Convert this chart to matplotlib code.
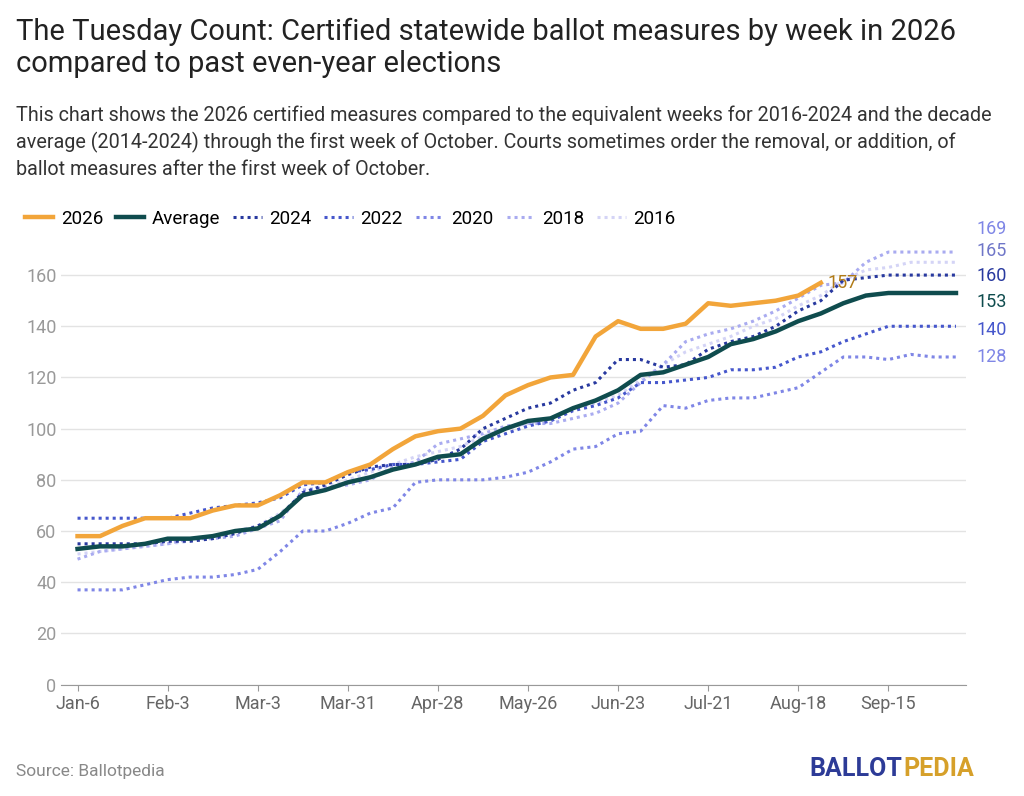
import matplotlib.pyplot as plt
import datetime as dt

weeks = [dt.date(2026, 1, 6) + dt.timedelta(weeks=i) for i in range(40)]
tick_labels = ["Jan-6", "Feb-3", "Mar-3", "Mar-31", "Apr-28", "May-26", "Jun-23", "Jul-21", "Aug-18", "Sep-15"]

y2026 = [58,58,62,65,65,65,68,70,70,74,79,79,83,86,92,97,99,100,105,113,117,120,121,136,142,139,139,141,149,148,149,150,152,157]
avg = [53,54,54,55,57,57,58,60,61,66,74,76,79,81,84,86,89,90,96,100,103,104,108,111,115,121,122,125,128,133,135,138,142,145,149,152,153,153,153,153]
y2024 = [55,55,55,55,56,56,57,59,62,66,75,78,82,85,86,86,88,92,100,104,108,110,115,118,127,127,124,125,131,134,136,140,146,150,158,159,160,160,160,160]
y2022 = [65,65,65,65,65,67,69,70,71,73,78,79,83,84,86,86,87,88,95,98,101,103,107,109,112,118,118,119,120,123,123,124,128,130,134,137,140,140,140,140]
y2020 = [37,37,37,39,41,42,42,43,45,52,60,60,63,67,69,79,80,80,80,81,83,87,92,93,98,99,109,108,111,112,112,114,116,122,128,128,127,129,128,128]
y2018 = [49,52,53,54,55,57,57,58,61,64,76,77,78,80,85,87,94,96,98,101,102,102,104,106,110,118,125,134,137,139,142,146,151,156,157,165,169,169,169,169]
y2016 = [51,52,53,54,55,56,58,60,62,67,74,77,80,83,86,89,91,93,97,100,102,104,108,110,113,119,125,130,133,136,140,143,148,152,158,162,163,165,165,165]

plt.rcParams['font.family'] = ['Roboto', 'DejaVu Sans']
fig = plt.figure(figsize=(10.24, 7.96), dpi=100)
ax = fig.add_axes([0.06, 0.14, 0.883, 0.553])

dotted = [("2016", y2016, "#d4d4f6"), ("2018", y2018, "#a9abf0"), ("2020", y2020, "#7f86e6"),
          ("2022", y2022, "#4657cc"), ("2024", y2024, "#28399f")]
for name, ys, c in dotted:
    ax.plot(weeks, ys, color=c, lw=2.2, ls=(0, (1, 1.3)), label=name)
ax.plot(weeks, avg, color="#0f4c4e", lw=3.2, label="Average")
ax.plot(weeks[:len(y2026)], y2026, color="#f2a53a", lw=3.2, label="2026")

ax.text(weeks[len(y2026)-1] + dt.timedelta(days=2), y2026[-1], "157", color="#b07a16", fontsize=13, va="center")
# end labels, nudged apart where they would collide
ends = [(178, "169", "#7f86e6"), (169.5, "165", "#6f76c8"), (159.6, "160", "#28399f"),
        (149.6, "153", "#0f4c4e"), (138.7, "140", "#4657cc"), (128, "128", "#7f86e6")]
for v, t, c in ends:
    ax.text(1.012, v, t, transform=ax.get_yaxis_transform(), color=c, fontsize=13, va="center")

ax.set_ylim(0, 172)
ax.set_yticks(range(0, 161, 20))
ax.set_xlim(weeks[0] - dt.timedelta(days=5), weeks[-1] + dt.timedelta(days=3))
ax.set_xticks([weeks[i * 4] for i in range(10)])
ax.set_xticklabels(tick_labels)
ax.grid(axis="y", color="#e3e3e3", lw=1)
ax.set_axisbelow(True)
for s in ["top", "right", "left"]:
    ax.spines[s].set_visible(False)
ax.spines["bottom"].set_color("#999999")
ax.tick_params(axis="y", length=0, labelcolor="#999999", labelsize=13)
ax.tick_params(axis="x", length=4, color="#999999", labelcolor="#666666", labelsize=13)

h, l = ax.get_legend_handles_labels()
order = ["2026", "Average", "2024", "2022", "2020", "2018", "2016"]
hs = [h[l.index(o)] for o in order]
fig.legend(hs, order, loc="upper left", bbox_to_anchor=(0.008, 0.758), ncol=7, frameon=False,
           fontsize=13.5, handlelength=1.5, columnspacing=0.7, handletextpad=0.4)

fig.text(0.016, 0.978, "The Tuesday Count: Certified statewide ballot measures by week in 2026\ncompared to past even-year elections",
         fontsize=21, va="top", color="#222222", linespacing=1.2)
fig.text(0.016, 0.868, "This chart shows the 2026 certified measures compared to the equivalent weeks for 2016-2024 and the decade\n"
         "average (2014-2024) through the first week of October. Courts sometimes order the removal, or addition, of\n"
         "ballot measures after the first week of October.", fontsize=14.2, va="top", color="#333333", linespacing=1.45)
fig.text(0.016, 0.025, "Source: Ballotpedia", fontsize=12.5, color="#888888")
fig.text(0.79, 0.025, "BALLOT", fontsize=18, fontweight="bold", color="#2d3b97")
fig.text(0.882, 0.025, "PEDIA", fontsize=18, fontweight="bold", color="#d6a02a")
fig.savefig("out.png")
